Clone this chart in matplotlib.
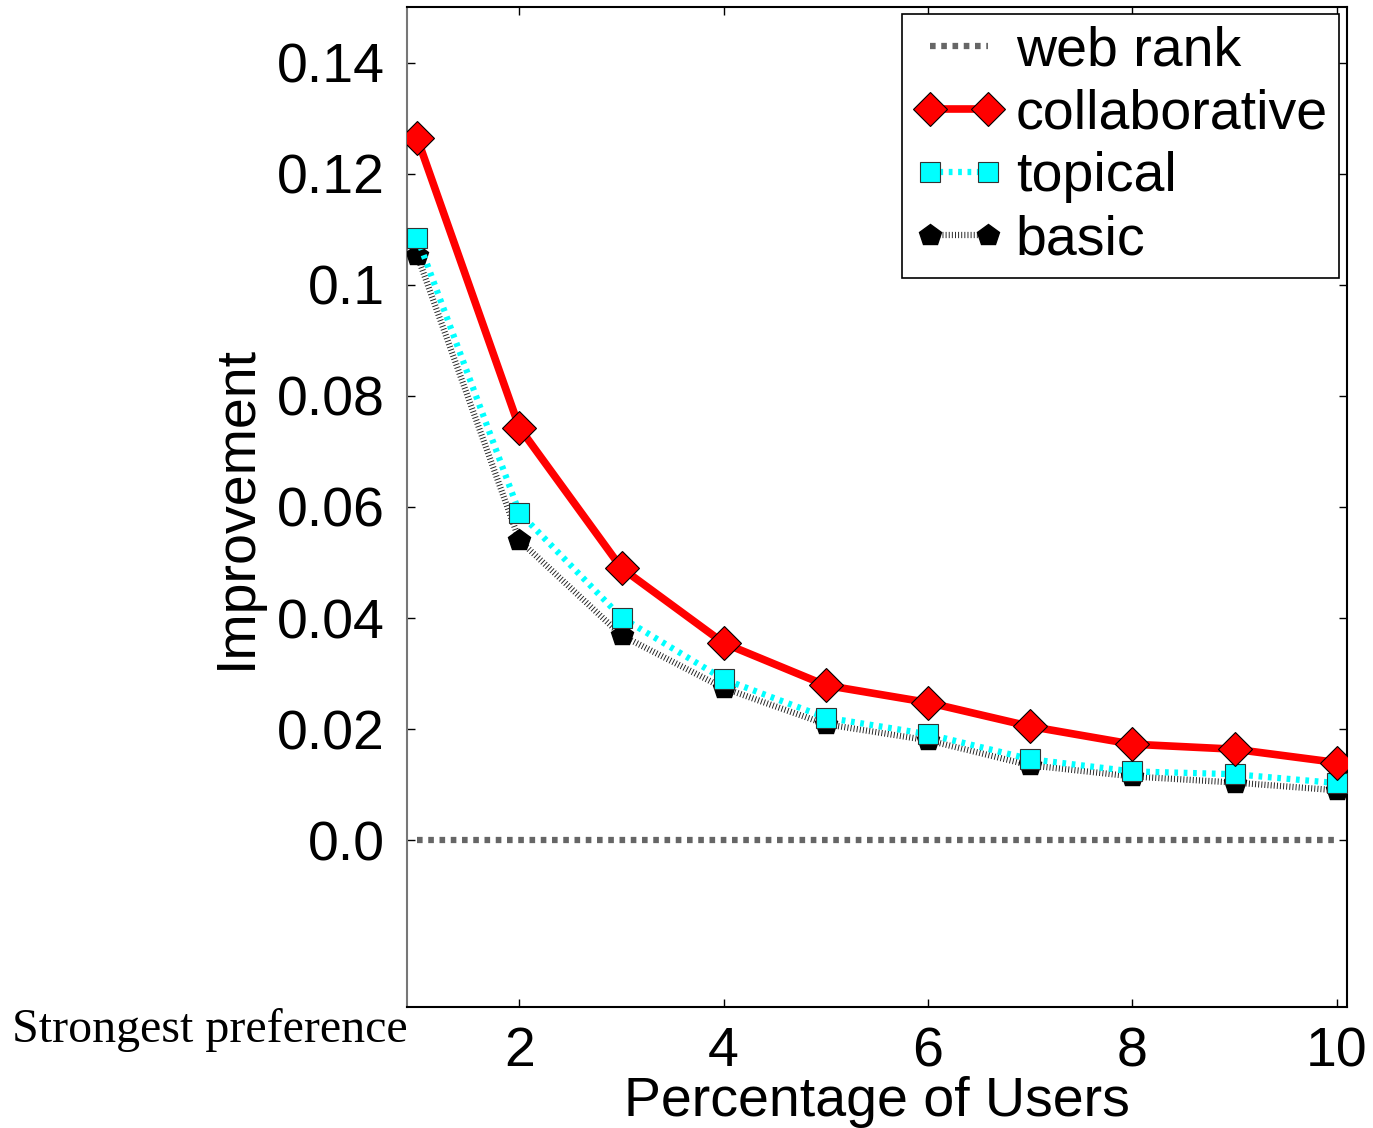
import matplotlib.pyplot as plt
import numpy as np

plt.rcParams['font.family'] = ['Liberation Sans', 'DejaVu Sans']

users = [1, 2, 3, 4, 5, 6, 7, 8, 9, 10]
web_rank = [0, 0, 0, 0, 0, 0, 0, 0, 0, 0]
collaborative = [0.1264, 0.0743, 0.0490, 0.0355, 0.0279, 0.0248, 0.0205, 0.0173, 0.0164, 0.0140]
topical = [0.1085, 0.0590, 0.0401, 0.0290, 0.0221, 0.0191, 0.0146, 0.0124, 0.0119, 0.0103]
basic = [0.1053, 0.0540, 0.0369, 0.0274, 0.0209, 0.0180, 0.0135, 0.0115, 0.0104, 0.0090]

yticks = [0.0, 0.02, 0.04, 0.06, 0.08, 0.10, 0.12, 0.14]
ytick_labels = ['0.0', '0.02', '0.04', '0.06', '0.08', '0.1', '0.12', '0.14']
xticks = [2, 4, 6, 8, 10]

fig = plt.figure(figsize=(13.73, 11.28), dpi=100)
ax = fig.add_axes([0.2964, 0.1073, 0.6846, 0.8865])

ax.plot(users, web_rank, color='#666666', lw=4.5, linestyle=(0, (0.9, 0.9)),
        label='web rank', zorder=2)
ax.plot(users, collaborative, color='red', lw=5.5, marker='D', markersize=17,
        markerfacecolor='red', markeredgecolor='black', markeredgewidth=0.8,
        label='collaborative', zorder=5)
ax.plot(users, topical, color='cyan', lw=4.5, linestyle=(0, (0.6, 0.9)), marker='s', markersize=15,
        markerfacecolor='cyan', markeredgecolor='#333333', markeredgewidth=0.8,
        label='topical', zorder=4)
ax.plot(users, basic, color='#222222', lw=4.5, linestyle=(0, (0.15, 0.35)), marker='p', markersize=16,
        markerfacecolor='black', markeredgecolor='black',
        label='basic', zorder=3)

ax.set_xlim(0.9, 10.1)
ax.set_ylim(-0.03, 0.15)
ax.set_xticks(xticks)
ax.set_yticks(yticks)
ax.set_yticklabels(ytick_labels)
ax.tick_params(direction='in', length=6, width=1, labelsize=40, top=True, right=True, pad=16)
ax.tick_params(axis='x', pad=14)
for side in ['top', 'right', 'bottom']:
    ax.spines[side].set_color('black')
    ax.spines[side].set_linewidth(1.5)
ax.spines['left'].set_color('#777777')
ax.spines['left'].set_linewidth(1.5)

ax.set_xlabel('Percentage of Users', fontsize=40, labelpad=-2)
ax.set_ylabel('Improvement', fontsize=40, labelpad=10)

leg = ax.legend(loc='upper right', fontsize=40, numpoints=2, handlelength=1.65,
                handletextpad=0.2, labelspacing=0.2, borderpad=0.2, borderaxespad=0,
                fancybox=False, framealpha=1, edgecolor='black',
                bbox_to_anchor=(0.9915, 0.993))
leg.get_frame().set_linewidth(1.2)

fig.text(12 / 1373, 1 - 1030 / 1128, 'Strongest preference', fontsize=34.5,
         family=['Liberation Serif', 'DejaVu Serif'], va='center', ha='left')

plt.savefig('out.png', dpi=100)
